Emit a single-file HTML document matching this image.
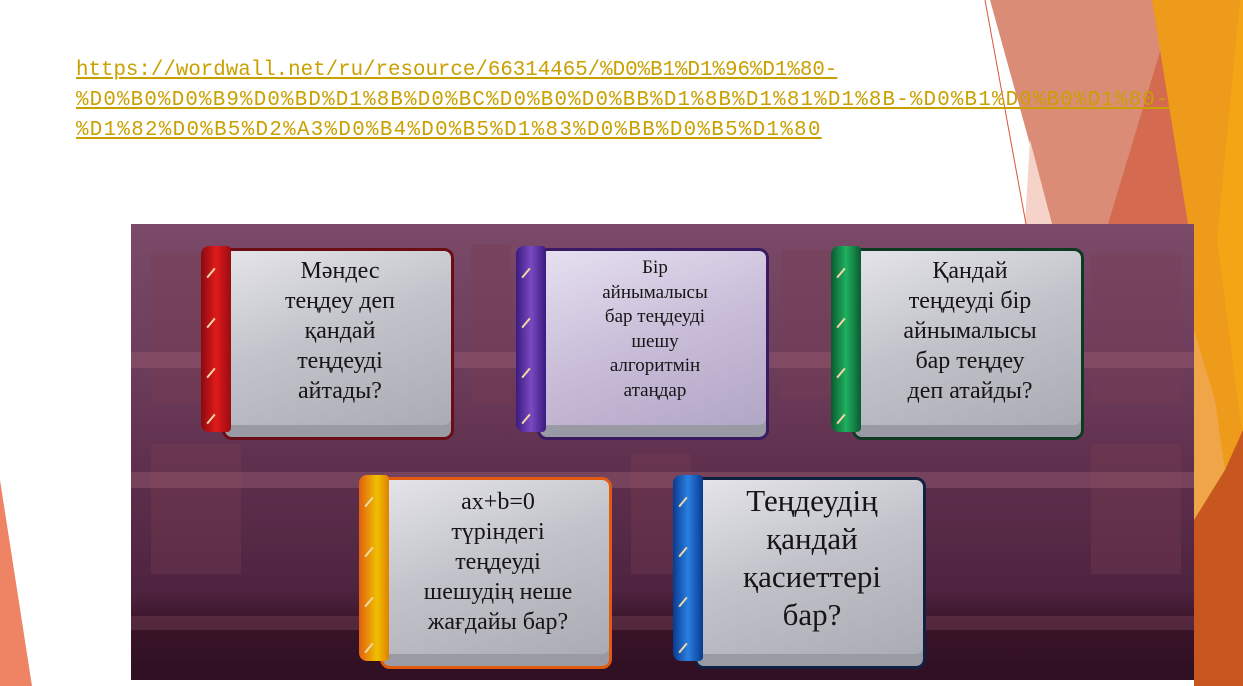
<!DOCTYPE html>
<html><head><meta charset="utf-8"><style>
body{margin:0;width:1243px;height:686px;overflow:hidden;background:#fff;position:relative;font-family:"Liberation Serif",serif}
.url{position:absolute;left:76px;top:56px;font-family:"Liberation Mono",monospace;font-size:20.8px;line-height:30px;color:#C9A000;white-space:pre}
.url span{text-decoration:underline;text-decoration-color:#C9A000}
#img{position:absolute;left:131px;top:224px;width:1063px;height:456px;overflow:hidden;
background:linear-gradient(#7a4a68 0%,#6e3d5c 30%,#5e2f4c 55%,#4f2440 80%,#3a1428 88%,#2f0f22 100%)}
.shelf{position:absolute;left:0;width:100%;height:16px;background:rgba(150,90,110,.45)}
.bk{position:absolute;background:rgba(120,60,80,.35)}
.page{position:absolute;border-radius:10px;background:linear-gradient(160deg,#e4e4ea 0%,#c2c2ca 45%,#a9a9b2 100%);box-shadow:inset 0 -12px 0 #9a9aa4}
.spine{position:absolute;border-radius:8px 4px 4px 8px;overflow:hidden}
.spine i{position:absolute;left:4px;width:12px;height:2px;background:#f0d8a8;transform:rotate(-50deg)}
.txt{position:absolute;text-align:center;color:#151515;font-size:24px;line-height:30px}
</style></head><body>
<svg width="1243" height="686" style="position:absolute;left:0;top:0">
<polygon points="0,480 32,686 0,686" fill="#EF8464"/>
<polygon points="990,0 1155,0 1188,224 1052,224" fill="#DA8C76"/>
<polygon points="1030,140 1052,224 1025,224" fill="#F6D3C8"/>
<polygon points="1162,45 1194,224 1194,330 1108,224" fill="#D46A50"/>
<polygon points="1152,0 1243,0 1243,686 1194,686 1194,330 1188,224" fill="#EE9A1A"/>
<polygon points="1240,0 1243,0 1243,440 1217,240" fill="#F4A516"/>
<polygon points="1194,330 1215,400 1225,470 1194,520" fill="#F0A648"/>
<polygon points="1194,520 1225,470 1243,430 1243,686 1194,686" fill="#C8561F"/>
<line x1="985" y1="0" x2="1026" y2="224" stroke="#D9563A" stroke-width="1"/>
</svg>
<div class="url"><span>https://wordwall.net/ru/resource/66314465/%D0%B1%D1%96%D1%80-</span>
<span style="letter-spacing:1.19px">%D0%B0%D0%B9%D0%BD%D1%8B%D0%BC%D0%B0%D0%BB%D1%8B%D1%81%D1%8B-%D0%B1%D0%B0%D1%80-</span>
<span style="letter-spacing:1.33px">%D1%82%D0%B5%D2%A3%D0%B4%D0%B5%D1%83%D0%BB%D0%B5%D1%80</span></div>
<div id="img">
<div class="bk" style="left:20px;top:30px;width:60px;height:150px"></div>
<div class="bk" style="left:340px;top:20px;width:40px;height:160px"></div>
<div class="bk" style="left:650px;top:25px;width:50px;height:150px"></div>
<div class="bk" style="left:960px;top:30px;width:90px;height:150px"></div>
<div class="bk" style="left:20px;top:220px;width:90px;height:130px"></div>
<div class="bk" style="left:960px;top:220px;width:90px;height:130px"></div>
<div class="bk" style="left:500px;top:230px;width:60px;height:120px"></div>
<div class="shelf" style="top:128px"></div>
<div class="shelf" style="top:248px"></div>
<div class="shelf" style="top:392px;height:14px;background:rgba(110,60,80,.5)"></div>
</div>

<div class="page" style="left:222px;top:248px;width:226px;height:186px;border:3px solid #6a0d14"></div>
<div class="spine" style="left:201px;top:246px;width:30px;height:186px;background:linear-gradient(90deg,#8a0a10,#e01a1a 50%,#9a0c12)"><i style="top:26px"></i><i style="top:76px"></i><i style="top:126px"></i><i style="top:172px"></i></div>
<div class="txt" style="left:232px;top:256px;width:216px">Мәндес<br>теңдеу деп<br>қандай<br>теңдеуді<br>айтады?</div>

<div class="page" style="left:537px;top:248px;width:226px;height:186px;border:3px solid #3a1a60;background:linear-gradient(160deg,#e6e0f0,#c8bcd8 50%,#b0a4c4)"></div>
<div class="spine" style="left:516px;top:246px;width:30px;height:186px;background:linear-gradient(90deg,#3a1a80,#7a4ac0 50%,#3a1a80)"><i style="top:26px"></i><i style="top:76px"></i><i style="top:126px"></i><i style="top:172px"></i></div>
<div class="txt" style="left:547px;top:256px;width:216px;font-size:19px;line-height:24.5px">Бір<br>айнымалысы<br>бар теңдеуді<br>шешу<br>алгоритмін<br>атаңдар</div>

<div class="page" style="left:852px;top:248px;width:226px;height:186px;border:3px solid #0e3a22"></div>
<div class="spine" style="left:831px;top:246px;width:30px;height:186px;background:linear-gradient(90deg,#0a5a30,#20b060 50%,#0a5a30)"><i style="top:26px"></i><i style="top:76px"></i><i style="top:126px"></i><i style="top:172px"></i></div>
<div class="txt" style="left:862px;top:256px;width:216px">Қандай<br>теңдеуді бір<br>айнымалысы<br>бар теңдеу<br>деп атайды?</div>

<div class="page" style="left:380px;top:477px;width:226px;height:186px;border:3px solid #e05a10"></div>
<div class="spine" style="left:359px;top:475px;width:30px;height:186px;background:linear-gradient(90deg,#e06010,#f0c000 60%,#e08000)"><i style="top:26px"></i><i style="top:76px"></i><i style="top:126px"></i><i style="top:172px"></i></div>
<div class="txt" style="left:390px;top:487px;width:216px">ax+b=0<br>түріндегі<br>теңдеуді<br>шешудің неше<br>жағдайы бар?</div>

<div class="page" style="left:694px;top:477px;width:226px;height:186px;border:3px solid #102040"></div>
<div class="spine" style="left:673px;top:475px;width:30px;height:186px;background:linear-gradient(90deg,#0a3a90,#2a80e0 50%,#0a3a90)"><i style="top:26px"></i><i style="top:76px"></i><i style="top:126px"></i><i style="top:172px"></i></div>
<div class="txt" style="left:704px;top:482px;width:216px;font-size:31px;line-height:38px">Теңдеудің<br>қандай<br>қасиеттері<br>бар?</div>
</body></html>
